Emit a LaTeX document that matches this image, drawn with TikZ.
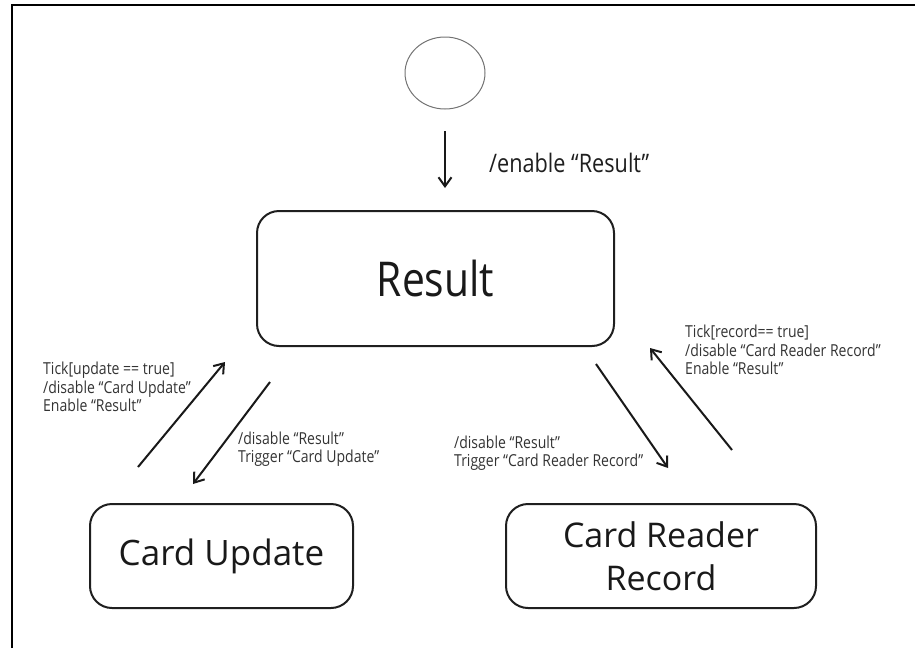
\documentclass[tikz,border=0pt]{standalone}
\usepackage{fontspec}
\setmainfont{Open Sans}[FakeStretch=0.85]
\newfontfamily\boxfont{Open Sans}
\usetikzlibrary{arrows.meta,shapes.geometric}
\begin{document}
\begin{tikzpicture}[x=1pt,y=-1pt,
  state/.style={draw=black!88, line width=2pt, rounded corners=22pt, inner sep=0pt, text=black!90},
  conn/.style={line width=2pt, black!90, -{Straight Barb[length=9pt,width=13pt,line width=2pt]}},
  lbl/.style={font=\fontsize{16.5}{18.5}\selectfont, align=left, anchor=west, inner sep=0pt, text=black!80}
]
\useasboundingbox (0,0) rectangle (915,648);
\draw[line width=2.5pt] (12,648) -- (12,5) -- (915,5);
% initial
\node[ellipse, draw=black!55, line width=1pt, minimum width=80pt, minimum height=72pt] (init) at (445,73) {};
% states
\node[state, minimum width=357pt, minimum height=135pt, font=\fontsize{48}{50}\selectfont] (result) at (435.5,278.5) {Result};
\node[state, minimum width=263pt, minimum height=104pt, font=\boxfont\fontsize{35}{40}\selectfont] (upd) at (221.5,556) {Card Update};
\node[state, minimum width=310pt, minimum height=104pt, font=\boxfont\fontsize{34}{43}\selectfont, align=center] (crr) at (661,556) {Card Reader\\Record};
% connector end points
\coordinate (i1) at (445,131);
\coordinate (i2) at (445,188);
\coordinate (a1) at (138,467);
\coordinate (a2) at (225,362);
\coordinate (b1) at (270,382);
\coordinate (b2) at (193,484);
\coordinate (c1) at (596,364);
\coordinate (c2) at (668,468);
\coordinate (d1) at (732,450);
\coordinate (d2) at (650,348);
\draw[conn] (i1) -- (i2);
\draw[conn] (a1) -- (a2);
\draw[conn] (b1) -- (b2);
\draw[conn] (c1) -- (c2);
\draw[conn] (d1) -- (d2);
% labels
\node[lbl, font=\fontsize{25.5}{28}\selectfont, text=black!88] (l0) at (489,163) {/enable “Result”};
\node[lbl] (l1) at (43,387) {Tick[update == true]\\/disable “Card Update”\\Enable “Result”};
\node[lbl] (l2) at (238,449) {/disable “Result”\\Trigger “Card Update”};
\node[lbl] (l3) at (454,453) {/disable “Result”\\Trigger “Card Reader Record”};
\node[lbl] (l4) at (685,350) {Tick[record== true]\\/disable “Card Reader Record”\\Enable “Result”};
\end{tikzpicture}
\end{document}
